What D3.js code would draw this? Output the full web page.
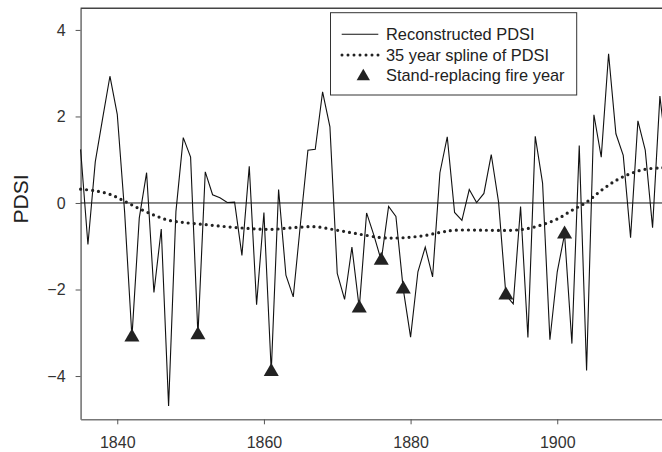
<!DOCTYPE html>
<html>
<head>
<meta charset="utf-8">
<script src="https://cdn.jsdelivr.net/npm/d3@7"></script>
<style>
  body { margin: 0; background: #fff; }
  svg { display: block; font-family: "Liberation Sans", Arial, sans-serif; }
</style>
</head>
<body>
<div id="vis"></div>
<script>
// reconstructed PDSI, one value per year from 1835
var firstYear = 1835;
var pdsi = [
  1.24, -0.96, 0.95, 1.95, 2.93, 2.05, -0.2, -3.1, -0.35, 0.70,
  -2.07, -0.60, -4.69, -0.2, 1.51, 1.06, -3.05, 0.72, 0.19, 0.12,
  0.01, 0.02, -1.21, 0.85, -2.35, -0.22, -3.9, 0.31, -1.67, -2.17,
  -0.45, 1.22, 1.24, 2.57, 1.76, -1.63, -2.23, -1.02, -2.43, -0.23,
  -0.75, -1.33, -0.08, -0.31, -1.99, -3.10, -1.59, -1.02, -1.71, 0.70,
  1.53, -0.22, -0.40, 0.31, 0.01, 0.22, 1.12, 0.02, -2.13, -2.33,
  -0.08, -3.11, 1.54, 0.46, -3.16, -1.59, -0.72, -3.25, 1.33, -3.87,
  2.04, 1.06, 3.45, 1.60, 1.10, -0.80, 1.90, 1.22, -0.57, 2.47,
  1.0
];
var years = pdsi.map(function(d, i) { return firstYear + i; });

// 35 year spline
var splineYears = [1835, 1837, 1839, 1841, 1843, 1845, 1847, 1849, 1852, 1855,
  1858, 1861, 1864, 1867, 1870, 1873, 1876, 1878, 1880, 1882,
  1884, 1886, 1890, 1894, 1896, 1898, 1900, 1902, 1904, 1906,
  1908, 1910, 1912, 1914, 1915];
var splineValues = [0.32, 0.28, 0.20, 0.04, -0.13, -0.28, -0.40, -0.45, -0.50, -0.55,
  -0.59, -0.61, -0.57, -0.55, -0.63, -0.72, -0.80, -0.81, -0.79, -0.75,
  -0.68, -0.63, -0.63, -0.63, -0.59, -0.50, -0.37, -0.17, 0.02, 0.29,
  0.52, 0.68, 0.78, 0.81, 0.82];

// stand-replacing fire years
var fireYears = [1842, 1851, 1861, 1873, 1876, 1879, 1893, 1901];

var xTicks = [1840, 1860, 1880, 1900];
var yTicks = [-4, -2, 0, 2, 4];

var legendLabels = ["Reconstructed PDSI", "35 year spline of PDSI", "Stand-replacing fire year"];

var width = 662, height = 452;

var svg = d3.select("#vis")
  .append("svg")
  .attr("width", width)
  .attr("height", height);

var x = d3.scaleLinear().domain([1835, 1920]).range([80.6, 80.6 + 85 * 7.333]);
var y = d3.scaleLinear().domain([-5, 4.5]).range([419.3, 8.3]);

// axes
var xAxis = svg.append("g")
  .attr("transform", "translate(0," + y(-5) + ")")
  .call(d3.axisBottom(x).tickValues(xTicks).tickFormat(d3.format("d"))
    .tickSize(5).tickSizeOuter(0).tickPadding(12));

var yAxis = svg.append("g")
  .attr("transform", "translate(" + x(1835) + ",0)")
  .call(d3.axisLeft(y).tickValues(yTicks).tickSize(5).tickSizeOuter(0).tickPadding(10));

[xAxis, yAxis].forEach(function(a) {
  a.select(".domain").attr("stroke", "#777").attr("stroke-width", 1.6);
  a.selectAll(".tick line").attr("stroke", "#555").attr("stroke-width", 1);
  a.selectAll(".tick text").attr("fill", "#333").style("font-size", "16px");
});

// top of the box
svg.append("line")
  .attr("x1", x(1835)).attr("x2", width)
  .attr("y1", y(4.5)).attr("y2", y(4.5))
  .attr("stroke", "#444").attr("stroke-width", 1.4);

svg.append("text")
  .attr("transform", "translate(28,199) rotate(-90)")
  .attr("text-anchor", "middle")
  .attr("fill", "#222")
  .style("font-size", "21px")
  .text("PDSI");

// zero line
svg.append("line")
  .attr("x1", x(1835)).attr("x2", width)
  .attr("y1", y(0)).attr("y2", y(0))
  .attr("stroke", "#111").attr("stroke-width", 1);

var pdsiLine = d3.line()
  .x(function(d, i) { return x(years[i]); })
  .y(function(d) { return y(d); });

svg.append("path")
  .datum(pdsi)
  .attr("d", pdsiLine)
  .attr("fill", "none")
  .attr("stroke", "#111")
  .attr("stroke-width", 1.1);

var splineLine = d3.line()
  .curve(d3.curveCatmullRom)
  .x(function(d, i) { return x(splineYears[i]); })
  .y(function(d) { return y(d); });

svg.append("path")
  .datum(splineValues)
  .attr("d", splineLine)
  .attr("fill", "none")
  .attr("stroke", "#222")
  .attr("stroke-width", 3.2)
  .attr("stroke-linecap", "round")
  .attr("stroke-dasharray", "0,6");

// fire year markers
svg.selectAll(".fire")
  .data(fireYears)
  .enter().append("path")
  .attr("class", "fire")
  .attr("d", d3.symbol().type(d3.symbolTriangle).size(98))
  .attr("transform", function(d) {
    return "translate(" + x(d) + "," + y(pdsi[d - firstYear]) + ")";
  })
  .attr("fill", "#222");

/* legend */
var legend = svg.append("g");
legend.append("rect")
  .attr("x", 330.5).attr("y", 12.7)
  .attr("width", 246.2).attr("height", 82.3)
  .attr("fill", "#fff")
  .attr("stroke", "#333").attr("stroke-width", 1);

var rowY = [34.3, 55, 75.5];

legend.append("line")
  .attr("x1", 341.7).attr("x2", 378.3)
  .attr("y1", rowY[0]).attr("y2", rowY[0])
  .attr("stroke", "#111").attr("stroke-width", 1.1);

legend.append("line")
  .attr("x1", 342).attr("x2", 380)
  .attr("y1", rowY[1]).attr("y2", rowY[1])
  .attr("stroke", "#222").attr("stroke-width", 3)
  .attr("stroke-linecap", "round")
  .attr("stroke-dasharray", "0,6");

legend.append("path")
  .attr("d", d3.symbol().type(d3.symbolTriangle).size(77))
  .attr("transform", "translate(363.3," + (rowY[2] + 1) + ")")
  .attr("fill", "#222");

legend.selectAll(".label")
  .data(legendLabels)
  .enter().append("text")
  .attr("x", 386)
  .attr("y", function(d, i) { return rowY[i]; })
  .attr("dy", "0.36em")
  .attr("fill", "#222")
  .style("font-size", "16.4px")
  .text(function(d) { return d; });
</script>
</body>
</html>
